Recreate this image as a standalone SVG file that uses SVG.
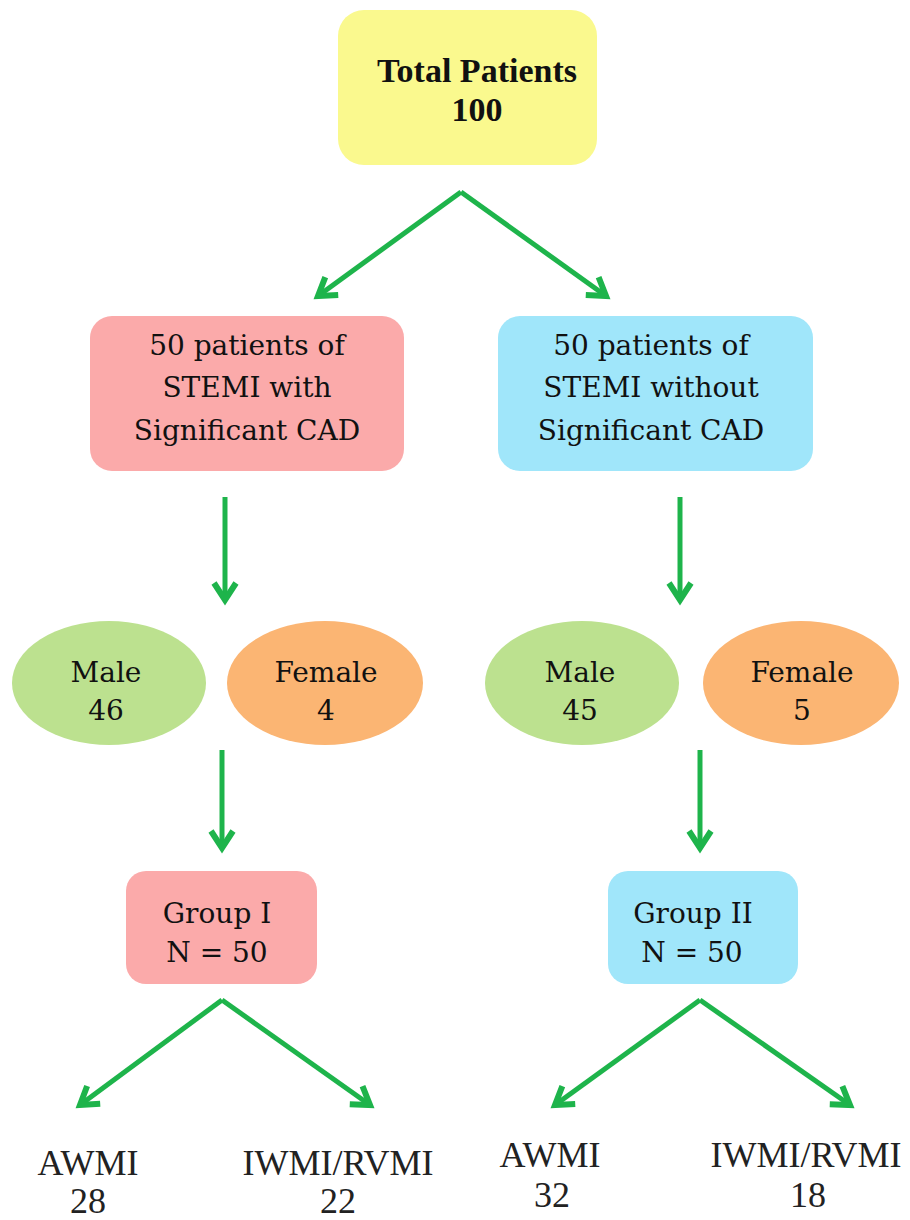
<svg xmlns="http://www.w3.org/2000/svg" width="910" height="1220" viewBox="0 0 910 1220">
<defs>
<style>
.t{font-family:"DejaVu Serif","Liberation Serif",serif;font-size:28px;fill:#111;text-anchor:middle}
.tb{font-family:"Liberation Serif","DejaVu Serif",serif;font-size:34px;font-weight:bold;fill:#111;text-anchor:middle}
.lab{font-family:"Liberation Serif","DejaVu Serif",serif;font-size:36px;fill:#222;text-anchor:middle}
.c{stroke:#1EB44B;stroke-width:5;fill:none;marker-end:url(#ah)}
</style>
<marker id="ah" markerUnits="userSpaceOnUse" markerWidth="40" markerHeight="40" refX="20" refY="20" orient="auto" viewBox="0 0 40 40">
<polyline points="3,9 20,20 3,31" fill="none" stroke="#1EB44B" stroke-width="6" stroke-linejoin="miter"/>
</marker>
</defs>
<rect width="910" height="1220" fill="#fff"/>
<g id="connectors">
<path class="c" d="M461,192 L318,296"/>
<path class="c" d="M461,192 L606,296"/>
<path class="c" d="M225,497 L225,600"/>
<path class="c" d="M680,497 L680,600"/>
<path class="c" d="M222,750 L222,848"/>
<path class="c" d="M700,750 L700,848"/>
<path class="c" d="M222,1000 L80,1105"/>
<path class="c" d="M222,1000 L370,1105"/>
<path class="c" d="M700,1000 L555,1105"/>
<path class="c" d="M700,1000 L850,1105"/>
</g>
<g id="total">
<rect x="338" y="10" width="259" height="155" rx="26" fill="#FAF98E"/>
<text class="tb" x="477" y="82">Total Patients</text>
<text class="tb" x="477" y="121">100</text>
</g>
<g id="with-cad">
<rect x="90" y="316" width="314" height="155" rx="22" fill="#FBAAAA"/>
<text class="t" x="247" y="355">50 patients of</text>
<text class="t" x="247" y="397">STEMI with</text>
<text class="t" x="247" y="440">Significant CAD</text>
</g>
<g id="without-cad">
<rect x="498" y="316" width="315" height="155" rx="22" fill="#A0E6FA"/>
<text class="t" x="651" y="355">50 patients of</text>
<text class="t" x="651" y="397">STEMI without</text>
<text class="t" x="651" y="440">Significant CAD</text>
</g>
<g id="male-1">
<ellipse cx="109" cy="683" rx="97" ry="62" fill="#BCE18F"/>
<text class="t" x="106" y="682">Male</text>
<text class="t" x="106" y="720">46</text>
</g>
<g id="female-1">
<ellipse cx="325" cy="683" rx="98" ry="62" fill="#FBB573"/>
<text class="t" x="326" y="682">Female</text>
<text class="t" x="326" y="720">4</text>
</g>
<g id="male-2">
<ellipse cx="582" cy="683" rx="97" ry="62" fill="#BCE18F"/>
<text class="t" x="580" y="682">Male</text>
<text class="t" x="580" y="720">45</text>
</g>
<g id="female-2">
<ellipse cx="801" cy="683" rx="98" ry="62" fill="#FBB573"/>
<text class="t" x="802" y="682">Female</text>
<text class="t" x="802" y="720">5</text>
</g>
<g id="group-1">
<rect x="126" y="871" width="191" height="113" rx="20" fill="#FBAAAA"/>
<text class="t" x="217" y="923">Group I</text>
<text class="t" x="217" y="962">N = 50</text>
</g>
<g id="group-2">
<rect x="608" y="871" width="190" height="113" rx="20" fill="#A0E6FA"/>
<text class="t" x="693" y="923">Group II</text>
<text class="t" x="692" y="962">N = 50</text>
</g>
<g id="awmi-1">
<text class="lab" x="88" y="1175">AWMI</text>
<text class="lab" x="88" y="1213">28</text>
</g>
<g id="iwmi-1">
<text class="lab" x="338" y="1175">IWMI/RVMI</text>
<text class="lab" x="338" y="1213">22</text>
</g>
<g id="awmi-2">
<text class="lab" x="550" y="1167">AWMI</text>
<text class="lab" x="552" y="1207">32</text>
</g>
<g id="iwmi-2">
<text class="lab" x="806" y="1167">IWMI/RVMI</text>
<text class="lab" x="808" y="1207">18</text>
</g>
</svg>
